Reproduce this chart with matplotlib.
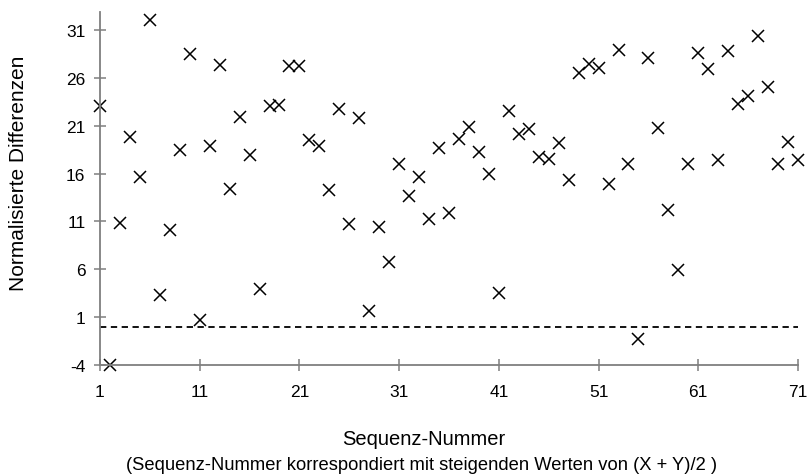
import matplotlib.pyplot as plt
import numpy as np

plt.rcParams['font.family'] = ['Liberation Sans', 'DejaVu Sans']
plt.rcParams['axes.unicode_minus'] = False

# Sequenznummern und normalisierte Differenzen
sequenz = np.arange(1, 72)
differenzen = [23.1, -4.0, 10.8, 19.8, 15.6, 32.0, 3.3, 10.1, 18.5, 28.5,
               0.7, 18.9, 27.3, 14.4, 21.9, 17.9, 3.9, 23.1, 23.2, 27.2,
               27.2, 19.5, 18.9, 14.25, 22.7, 10.7, 21.8, 1.6, 10.4, 6.8,
               17.0, 13.7, 15.6, 11.2, 18.7, 11.85, 19.65, 20.9, 18.2, 16.0,
               3.5, 22.5, 20.1, 20.6, 17.7, 17.55, 19.2, 15.3, 26.5, 27.4,
               27.0, 14.9, 28.9, 17.0, -1.3, 28.1, 20.8, 12.2, 5.9, 17.0,
               28.6, 26.9, 17.4, 28.8, 23.3, 24.1, 30.4, 25.0, 17.0, 19.3,
               17.4]
xticks = np.arange(1, 72, 10)
yticks = np.arange(-4, 32, 5)
nulllinie = 0

fig = plt.figure(figsize=(8.09, 4.77), dpi=100)
ax = fig.add_axes([0.1236, 0.2327, 0.8628, 0.7407])

ax.plot(sequenz, differenzen, linestyle='none', marker='x', markersize=8,
        markeredgewidth=1.1, color='black', clip_on=False)
ax.plot([sequenz[0], sequenz[-1]], [nulllinie, nulllinie], color='black',
        linestyle=(0, (3.5, 2.5)), linewidth=1.3)

ax.set_xlim(1, 71)
ax.set_ylim(-4, 32.9)
ax.set_xticks(xticks)
ax.set_yticks(yticks)

for s in ['top', 'right']:
    ax.spines[s].set_visible(False)
for s in ['left', 'bottom']:
    ax.spines[s].set_color('#7f7f7f')
    ax.spines[s].set_linewidth(1.3)
ax.tick_params(direction='inout', length=9, width=1.1, color='#7f7f7f',
               labelsize=12.5)
ax.tick_params(axis='x', pad=9)
ax.tick_params(axis='y', pad=6)

fig.text(424 / 809, 1 - 440 / 477, 'Sequenz-Nummer', ha='center', va='center',
         fontsize=14.5)
fig.text(19 / 809, 1 - 173 / 477, 'Normalisierte Differenzen', ha='center',
         va='center', rotation=90, fontsize=15)
fig.text(422 / 809, 1 - 466 / 477,
         '(Sequenz-Nummer korrespondiert mit steigenden Werten von (X + Y)/2 )',
         ha='center', va='center', fontsize=13.2)

plt.savefig('out.png', dpi=100)
